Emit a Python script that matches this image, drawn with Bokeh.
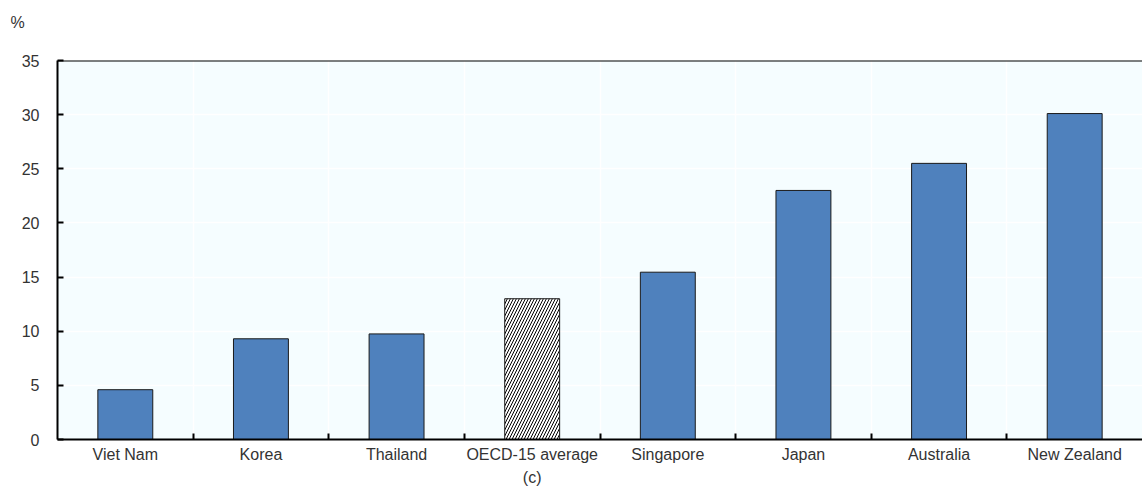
import numpy as np
from bokeh.plotting import figure
from bokeh.models import ColumnDataSource, FixedTicker, Span
from bokeh.embed import file_html
from bokeh.resources import INLINE

categories = ["Viet Nam", "Korea", "Thailand", "OECD-15 average\n(c)", "Singapore", "Japan", "Australia", "New Zealand"]
values = [4.6, 9.3, 9.75, 13.0, 15.45, 23.0, 25.5, 30.1]
is_average = [False, False, False, True, False, False, False, False]
y_ticks = [0, 5, 10, 15, 20, 25, 30, 35]

FONT = "Liberation Sans"
n = len(categories)
xpos = np.arange(n) + 0.5

p = figure(width=1142, height=489, x_range=(0, n), y_range=(0, 35),
           output_backend="svg", toolbar_location=None,
           min_border_left=57, min_border_right=0, min_border_top=60, min_border_bottom=49)
p.background_fill_color = "#F5FDFF"
p.border_fill_color = "white"
p.outline_line_color = None

p.title.text = "%\n\u00a0"
p.title.text_line_height = 1.75
p.title.standoff = 0
p.title.align = "left"
p.title.offset = -47
p.title.text_font = FONT
p.title.text_font_size = "16px"
p.title.text_font_style = "normal"
p.title.text_color = "#333333"

reg_idx = [i for i in range(n) if not is_average[i]]
avg_idx = [i for i in range(n) if is_average[i]]
src_reg = ColumnDataSource(dict(x=xpos[reg_idx], top=[values[i] for i in reg_idx]))
src_avg = ColumnDataSource(dict(x=xpos[avg_idx], top=[values[i] for i in avg_idx]))

p.vbar(x="x", top="top", width=0.405, bottom=0, source=src_reg,
       fill_color="#4F81BD", line_color="#1a1a1a", line_width=1)
p.vbar(x="x", top="top", width=0.405, bottom=0, source=src_avg,
       fill_color="white", line_color="#1a1a1a", line_width=1,
       hatch_pattern="/", hatch_color="black", hatch_scale=6, hatch_weight=1)

# grid
p.xgrid.ticker = FixedTicker(ticks=list(np.arange(1, n)))
p.xgrid.grid_line_color = "white"
p.xgrid.grid_line_width = 1.5
p.ygrid.ticker = FixedTicker(ticks=y_ticks)
p.ygrid.grid_line_color = "white"
p.ygrid.grid_line_width = 1.5

# x axis
xa = p.xaxis[0]
xa.ticker = FixedTicker(ticks=list(xpos), minor_ticks=list(np.arange(1, n)))
xa.major_label_overrides = {float(x): c for x, c in zip(xpos, categories)}
xa.major_tick_line_color = None
xa.minor_tick_in = 6
xa.minor_tick_out = 0
xa.minor_tick_line_color = "black"
xa.minor_tick_line_width = 2
xa.axis_line_color = "black"
xa.axis_line_width = 2
xa.major_label_text_font = FONT
xa.major_label_text_font_size = "16px"
xa.major_label_text_color = "#333333"
xa.major_label_text_line_height = 1.4
xa.major_label_standoff = 0

# y axis
ya = p.yaxis[0]
ya.ticker = FixedTicker(ticks=y_ticks)
ya.major_tick_in = 6
ya.major_tick_out = 0
ya.major_tick_line_width = 2
ya.major_tick_line_color = "black"
ya.minor_tick_line_color = None
ya.axis_line_color = "black"
ya.axis_line_width = 2
ya.major_label_text_font = FONT
ya.major_label_text_font_size = "16px"
ya.major_label_text_color = "#333333"
ya.major_label_standoff = 18

# top border
p.add_layout(Span(location=35, dimension="width", line_color="black", line_width=2))

open("out.html", "w").write(file_html(p, INLINE))
